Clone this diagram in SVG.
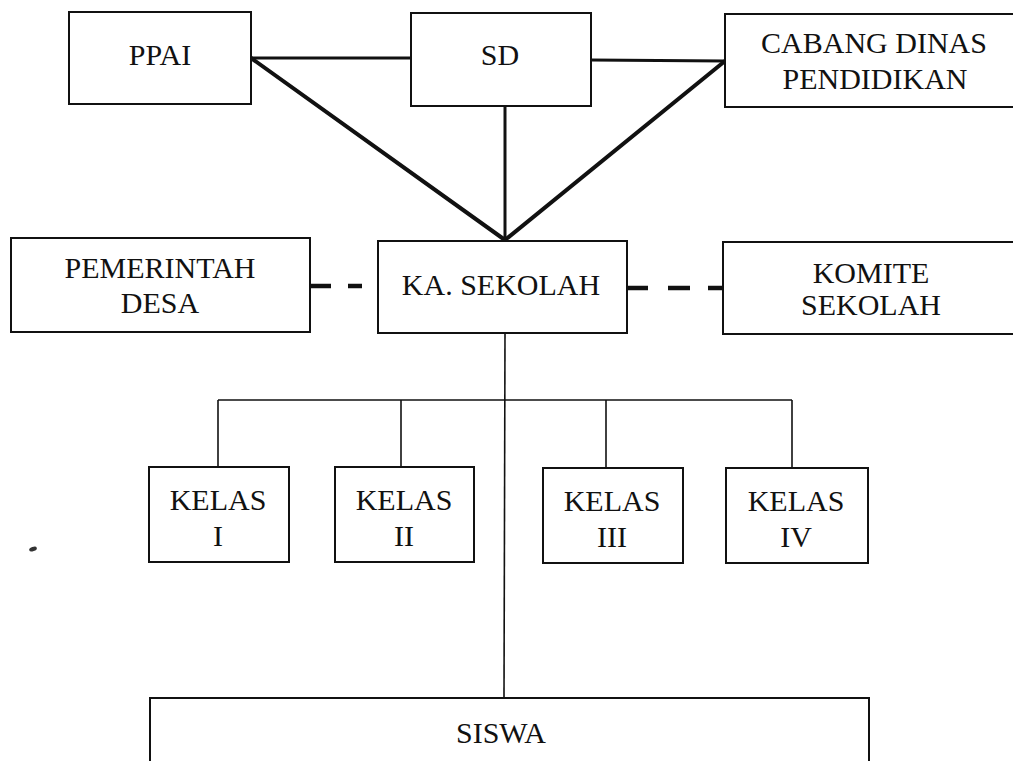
<svg xmlns="http://www.w3.org/2000/svg" width="1013" height="761" viewBox="0 0 1013 761">
<style>
.box{fill:#fff;stroke:#111;stroke-width:2}
.t{font-family:"Liberation Serif","Times New Roman",serif;font-size:30px;fill:#111;text-anchor:middle}
.thick{stroke:#111;stroke-width:4;stroke-linecap:round;fill:none}
.mid{stroke:#111;stroke-width:3;fill:none}
.thin{stroke:#111;stroke-width:1.6;fill:none}
.dash{stroke:#111;stroke-width:4.5;fill:none}
</style>
<rect width="1013" height="761" fill="#fff"/>
<g id="connectors">
<line class="mid" x1="251" y1="58" x2="411" y2="58"/>
<line class="mid" x1="591" y1="60" x2="725" y2="61"/>
<line class="thick" x1="251" y1="58" x2="505" y2="240"/>
<line class="thick" x1="725" y1="61" x2="505" y2="240"/>
<line class="mid" x1="505" y1="106" x2="505" y2="240"/>
<line class="dash" x1="310" y1="286" x2="331" y2="286"/>
<line class="dash" x1="348" y1="286" x2="362" y2="286"/>
<line class="dash" x1="628" y1="288" x2="648" y2="288"/>
<line class="dash" x1="668" y1="288" x2="690" y2="288"/>
<line class="dash" x1="708" y1="288" x2="722" y2="288"/>
<line class="thin" x1="505" y1="333" x2="504" y2="698"/>
<line class="thin" x1="218" y1="400" x2="792" y2="400"/>
<line class="thin" x1="218" y1="400" x2="218" y2="467"/>
<line class="thin" x1="401" y1="400" x2="401" y2="467"/>
<line class="thin" x1="606" y1="400" x2="606" y2="468"/>
<line class="thin" x1="792" y1="400" x2="792" y2="468"/>
</g>
<g id="ppai">
<rect class="box" x="69" y="12" width="182" height="92"/>
<text class="t" x="160" y="65">PPAI</text>
</g>
<g id="sd">
<rect class="box" x="411" y="13" width="180" height="93"/>
<text class="t" x="500" y="65">SD</text>
</g>
<g id="cabang">
<rect class="box" x="725" y="14" width="298" height="93"/>
<text class="t" x="874" y="53">CABANG DINAS</text>
<text class="t" x="875" y="89">PENDIDIKAN</text>
</g>
<g id="pemerintah">
<rect class="box" x="11" y="238" width="299" height="94"/>
<text class="t" x="160" y="278">PEMERINTAH</text>
<text class="t" x="160" y="313">DESA</text>
</g>
<g id="kasekolah">
<rect class="box" x="378" y="241" width="249" height="92"/>
<text class="t" x="501" y="295">KA. SEKOLAH</text>
</g>
<g id="komite">
<rect class="box" x="723" y="242" width="297" height="92"/>
<text class="t" x="871" y="283">KOMITE</text>
<text class="t" x="871" y="315">SEKOLAH</text>
</g>
<g id="kelas1">
<rect class="box" x="149" y="467" width="140" height="95"/>
<text class="t" x="218" y="510">KELAS</text>
<text class="t" x="218" y="546">I</text>
</g>
<g id="kelas2">
<rect class="box" x="335" y="467" width="139" height="95"/>
<text class="t" x="404" y="510">KELAS</text>
<text class="t" x="404" y="546">II</text>
</g>
<g id="kelas3">
<rect class="box" x="543" y="468" width="140" height="95"/>
<text class="t" x="612" y="511">KELAS</text>
<text class="t" x="612" y="547">III</text>
</g>
<g id="kelas4">
<rect class="box" x="726" y="468" width="142" height="95"/>
<text class="t" x="796" y="511">KELAS</text>
<text class="t" x="796" y="547">IV</text>
</g>
<g id="siswa">
<rect class="box" x="150" y="698" width="719" height="80"/>
<text class="t" x="501" y="743">SISWA</text>
</g>
<ellipse cx="33" cy="549" rx="4" ry="2.2" fill="#333" transform="rotate(-20 33 549)"/>
</svg>
